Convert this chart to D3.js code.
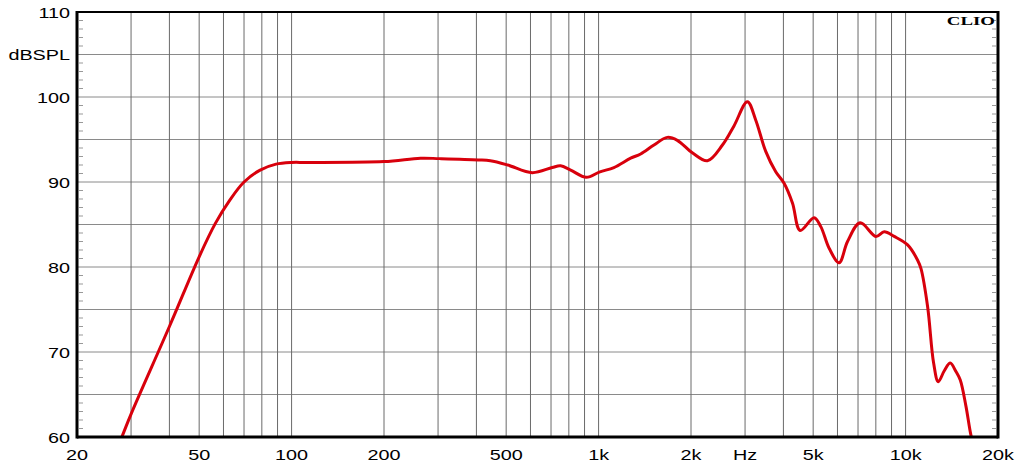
<!DOCTYPE html>
<html>
<head>
<meta charset="utf-8">
<script src="https://cdn.jsdelivr.net/npm/d3@7"></script>
<style>
  body { margin: 0; background: #fff; }
</style>
</head>
<body>
<script>
// frequency response (Hz, dB SPL)
const freqs = [27, 28, 30, 40, 50, 56.4, 63, 70, 79, 89, 100, 112, 200, 263, 303, 405, 444, 506, 608, 706, 752, 811, 912,
  1010, 1122, 1272, 1371, 1515, 1674, 1805, 2025, 2262, 2532, 2761, 3053, 3249, 3503, 3776, 4020, 4283, 4535,
  5035, 5295, 5636, 6075, 6470, 7113, 8003, 8519, 9182, 10153, 10945, 11225, 11800, 12340, 12780, 13370, 13980,
  14590, 15070, 15730, 16330, 16700];
const spl = [58.6, 60, 62.7, 73.0, 81.2, 85.1, 87.9, 90.0, 91.4, 92.1, 92.3, 92.3, 92.4, 92.8, 92.75, 92.6, 92.5, 92.0, 91.1,
  91.7, 91.9, 91.4, 90.55, 91.2, 91.7, 92.8, 93.3, 94.35, 95.25, 94.9, 93.4, 92.5, 94.35, 96.6, 99.45, 97.3, 93.6,
  91.2, 89.85, 87.5, 84.3, 85.8, 84.75, 82.2, 80.5, 83.0, 85.2, 83.6, 84.15, 83.6, 82.6, 80.8, 79.8, 75.3, 68.7,
  66.5, 67.8, 68.7, 67.7, 66.7, 63.6, 60.2, 59];

const xTickVals = [20, 50, 100, 200, 500, 1000, 2000, 3000, 5000, 10000, 20000];
const xTickLabels = ["20", "50", "100", "200", "500", "1k", "2k", "Hz", "5k", "10k", "20k"];
const yTickVals = [60, 70, 80, 90, 100, 105, 110];
const yTickLabels = ["60", "70", "80", "90", "100", "dBSPL", "110"];

const data = freqs.map((f, i) => ({f: f, db: spl[i]}));

const margin = {top: 12, right: 26, bottom: 27, left: 77};
const outerWidth = 1024, outerHeight = 464;
const width = outerWidth - margin.left - margin.right;
const height = outerHeight - margin.top - margin.bottom;

const xScale = d3.scaleLog().domain([20, 20000]).range([0, width]);
const yScale = d3.scaleLinear().domain([60, 110]).range([height, 0]);

const svg = d3.select("body").append("svg")
    .attr("width", outerWidth)
    .attr("height", outerHeight)
  .append("g")
    .attr("transform", `translate(${margin.left},${margin.top})`);

svg.append("defs").append("clipPath").attr("id", "plot-clip")
  .append("rect").attr("width", width).attr("height", height);

// horizontal grid every 5 dB
svg.append("g")
  .selectAll("line")
  .data(d3.range(65, 110, 5))
  .join("line")
    .attr("x1", 0).attr("x2", width)
    .attr("y1", d => yScale(d)).attr("y2", d => yScale(d))
    .attr("stroke", "#8a8a8a").attr("stroke-width", 1);

// vertical grid on the log decades
svg.append("g")
  .selectAll("line")
  .data(xScale.ticks().filter(d => d > 20 && d < 20000))
  .join("line")
    .attr("x1", d => xScale(d)).attr("x2", d => xScale(d))
    .attr("y1", 0).attr("y2", height)
    .attr("stroke", "#6a6a6a").attr("stroke-width", 1);

// small 1 dB ticks on the inside of both side frames
const minor = d3.range(61, 110, 1).filter(d => d % 5 !== 0);
[[2, 6], [width - 6, width - 2]].forEach(([a, b]) => {
  svg.append("g")
    .selectAll("line")
    .data(minor)
    .join("line")
      .attr("x1", a).attr("x2", b)
      .attr("y1", d => yScale(d)).attr("y2", d => yScale(d))
      .attr("stroke", "#999").attr("stroke-width", 1);
});

// response curve
const line = d3.line()
    .x(d => xScale(d.f))
    .y(d => yScale(d.db))
    .curve(d3.curveCatmullRom.alpha(0.5));

svg.append("path")
  .datum(data)
  .attr("clip-path", "url(#plot-clip)")
  .attr("fill", "none")
  .attr("stroke", "#d8000c")
  .attr("stroke-width", 3)
  .attr("stroke-linejoin", "round")
  .attr("d", line);

// frame
svg.append("line").attr("x1", 0).attr("x2", width).attr("y1", 0).attr("y2", 0)
  .attr("stroke", "#000").attr("stroke-width", 2);
svg.append("line").attr("x1", 0).attr("x2", width).attr("y1", height).attr("y2", height)
  .attr("stroke", "#000").attr("stroke-width", 3);
svg.append("line").attr("x1", 0).attr("x2", 0).attr("y1", -1).attr("y2", height + 1.5)
  .attr("stroke", "#000").attr("stroke-width", 3);
svg.append("line").attr("x1", width).attr("x2", width).attr("y1", -1).attr("y2", height + 1.5)
  .attr("stroke", "#000").attr("stroke-width", 3);

// labels (the original text is stretched sideways)
const sx = 1.32;
svg.append("g")
  .selectAll("text")
  .data(yTickVals)
  .join("text")
    .attr("transform", d => `translate(-7,${yScale(d) + 5.5}) scale(${sx},1)`)
    .attr("text-anchor", "end")
    .style("font-family", "'Liberation Sans', Arial, sans-serif")
    .style("font-size", "15px")
    .attr("fill", "#000")
    .text((d, i) => yTickLabels[i]);

svg.append("g")
  .selectAll("text")
  .data(xTickVals)
  .join("text")
    .attr("transform", d => `translate(${xScale(d)},${height + 22.5}) scale(${sx},1)`)
    .attr("text-anchor", "middle")
    .style("font-family", "'Liberation Sans', Arial, sans-serif")
    .style("font-size", "15px")
    .attr("fill", "#000")
    .text((d, i) => xTickLabels[i]);

svg.append("text")
  .attr("transform", `translate(${width - 3},13) scale(1.45,1)`)
  .attr("text-anchor", "end")
  .style("font-family", "'Liberation Serif', 'DejaVu Serif', serif")
  .style("font-weight", "bold")
  .style("font-size", "13px")
  .attr("fill", "#000")
  .text("CLIO");
</script>
</body>
</html>
